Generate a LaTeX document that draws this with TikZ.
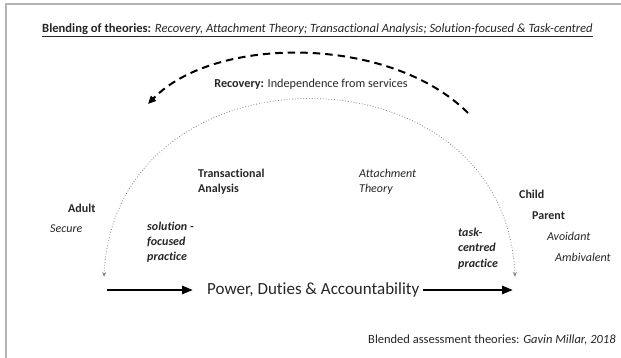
\documentclass[tikz,border=0pt]{standalone}
\usepackage{fontspec}
\setmainfont{Carlito}[Ligatures=NoCommon]
\usetikzlibrary{arrows.meta}
\definecolor{txt}{HTML}{262626}
\definecolor{frame}{HTML}{B4B4B4}
\definecolor{dotc}{HTML}{808080}
\tikzset{
  lbl/.style={anchor=west, inner sep=0pt, text=txt, font=\fontsize{12}{15}\selectfont, align=left},
  bigarrow/.style={line width=2.6pt, -{Triangle[length=11pt,width=8pt]}},
  dasharc/.style={line width=2pt, dash pattern=on 7.5pt off 5pt, -{Triangle[length=8pt,width=7pt]}},
  dotarc/.style={dotc, line width=0.8pt, dotted, {Stealth[length=5pt,width=4pt,open]}-{Stealth[length=5pt,width=4pt,open]}}
}
\begin{document}
\begin{tikzpicture}[x=1pt,y=-1pt]
\useasboundingbox (0,0) rectangle (621,358);
% frame (left and top edges)
\draw[frame, line width=1.5pt] (6,358) -- (6,4) -- (621,4);
% title
\node[lbl, font=\fontsize{12.6}{15}\selectfont] (title) at (42,30) {\underline{\textbf{Blending of theories:} \textit{Recovery, Attachment Theory; Transactional Analysis; Solution-focused \& Task-centred}}};
% recovery
\node[lbl, anchor=center, font=\fontsize{12.2}{15}\selectfont] (rec) at (311,84) {\textbf{Recovery:} Independence from services};
% dashed arc
\coordinate (dsr) at (468,113);
\coordinate (dsl) at (148,104);
\draw[dasharc] (dsr) .. controls (390,35) and (215,35) .. (dsl);
% dotted arc
\coordinate (dl) at (104,277);
\coordinate (dr) at (515,277);
\draw[dotarc] (dl) .. controls (115,40) and (505,40) .. (dr);
% labels
\node[lbl] (ta) at (198,181.5) {\textbf{Transactional}\\\textbf{Analysis}};
\node[lbl] (at) at (359,181.5) {\textit{Attachment}\\\textit{Theory}};
\node[lbl] (adult) at (68,208) {\textbf{Adult}};
\node[lbl] (secure) at (50,229) {\textit{Secure}};
\node[lbl] (sf) at (147,242) {\textbf{\textit{solution -}}\\\textbf{\textit{focused}}\\\textbf{\textit{practice}}};
\node[lbl] (child) at (519,194) {\textbf{Child}};
\node[lbl] (parent) at (532,216) {\textbf{Parent}};
\node[lbl] (avoid) at (547,236) {\textit{Avoidant}};
\node[lbl] (ambi) at (555,257) {\textit{Ambivalent}};
\node[lbl, font=\fontsize{12}{15.5}\selectfont] (tc) at (458,248.5) {\textbf{\textit{task-}}\\\textbf{\textit{centred}}\\\textbf{\textit{practice}}};
% power
\node[lbl, font=\fontsize{17}{20}\selectfont] (pw) at (207,290) {Power, Duties \& Accountability};
\coordinate (ls) at (107,290);
\coordinate (re) at (513,290);
\draw[bigarrow, shorten >=14pt] (ls) -- (pw.west);
\draw[bigarrow, shorten <=3pt] (pw.east) -- (re);
% credit
\node[lbl, font=\fontsize{12.5}{15}\selectfont] (cred) at (368,340) {Blended assessment theories: \textit{Gavin Millar, 2018}};
\end{tikzpicture}
\end{document}
